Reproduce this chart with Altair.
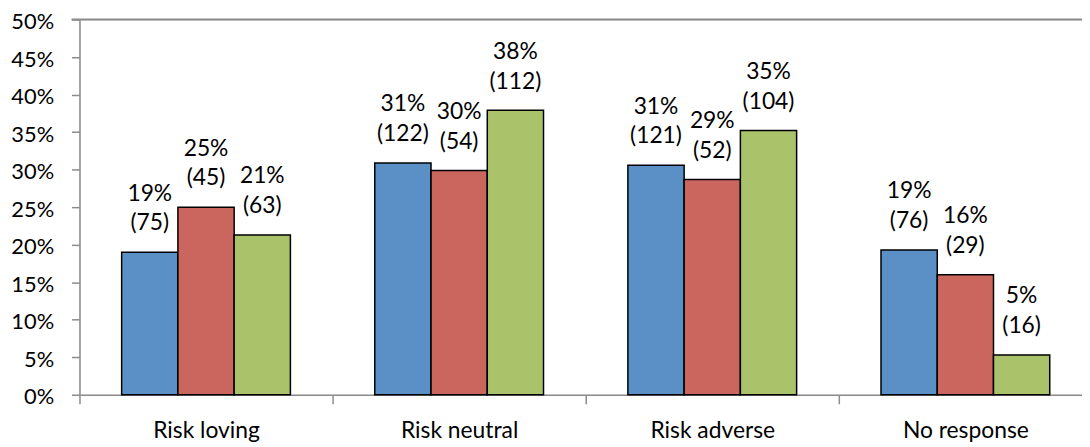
import altair as alt
import pandas as pd

categories = ["Risk loving", "Risk neutral", "Risk adverse", "No response"]
series = ["A", "B", "C"]
values_a = [0.190, 0.309, 0.306, 0.193]
values_b = [0.250, 0.299, 0.287, 0.160]
values_c = [0.213, 0.379, 0.352, 0.053]
labels_a = ["19%\n(75)", "31%\n(122)", "31%\n(121)", "19%\n(76)"]
labels_b = ["25%\n(45)", "30%\n(54)", "29%\n(52)", "16%\n(29)"]
labels_c = ["21%\n(63)", "38%\n(112)", "35%\n(104)", "5%\n(16)"]
colors = ["#5B90C6", "#CB665E", "#AAC36A"]
y_ticks = [i / 100 for i in range(0, 51, 5)]

rows = []
for s, vals, labs in zip(series, [values_a, values_b, values_c], [labels_a, labels_b, labels_c]):
    for c, v, l in zip(categories, vals, labs):
        rows.append({"cat": c, "series": s, "value": v, "label": l})
df = pd.DataFrame(rows)

FONT = "Lato"
FS = 23
AXIS_COLOR = "#8C8C8C"

x_scale = alt.Scale(domain=categories, range=[0, 1020], paddingInner=0, paddingOuter=0)
y_scale = alt.Scale(domain=[0, 0.5], nice=False)
y_axis = alt.Axis(title=None, format=".0%", values=y_ticks, labelFont=FONT,
                  labelFontSize=22, labelColor="#000000", domainColor=AXIS_COLOR,
                  tickColor=AXIS_COLOR, tickSize=8, domainWidth=1.5, tickWidth=1.5,
                  labelPadding=18, labelOverlap=False, labelFlush=False,
                  labelOffset=2, grid=False)

base = alt.Chart(df).encode(
    x=alt.X("cat:N", scale=x_scale, sort=categories,
            axis=alt.Axis(title=None, labelAngle=0, tickBand="extent", labelFont=FONT,
                          labelFontSize=FS, labelColor="#000000", domainColor=AXIS_COLOR,
                          tickColor=AXIS_COLOR, tickSize=9, domainWidth=1.5, tickWidth=1.5,
                          labelPadding=16, labelOverlap=False)),
    xOffset=alt.XOffset("series:N", sort=series,
                        scale=alt.Scale(paddingInner=0, paddingOuter=0.75)),
    y=alt.Y("value:Q", scale=y_scale, axis=y_axis),
)

bars = base.mark_bar(stroke="#000000", strokeWidth=1.5).encode(
    color=alt.Color("series:N", sort=series,
                    scale=alt.Scale(domain=series, range=colors), legend=None)
)

texts = base.mark_text(font=FONT, fontSize=FS, baseline="bottom", lineBreak="\n",
                       lineHeight=30, dy=-47, color="#000000").encode(text="label:N")

top_rule = alt.Chart(pd.DataFrame({"value": [0.5]})).mark_rule(
    color=AXIS_COLOR, strokeWidth=2
).encode(y=alt.Y("value:Q", scale=y_scale, axis=y_axis), x=alt.value(-8), x2=alt.value(1010))

chart = alt.layer(bars, texts, top_rule).properties(
    width=1010, height=378,
    autosize=alt.AutoSizeParams(type="none"),
    padding={"left": 72, "top": 10, "right": 0, "bottom": 52},
).configure_view(stroke=None).configure(background="white")

chart.save("out.html", embed_options={"renderer": "svg", "actions": False})
